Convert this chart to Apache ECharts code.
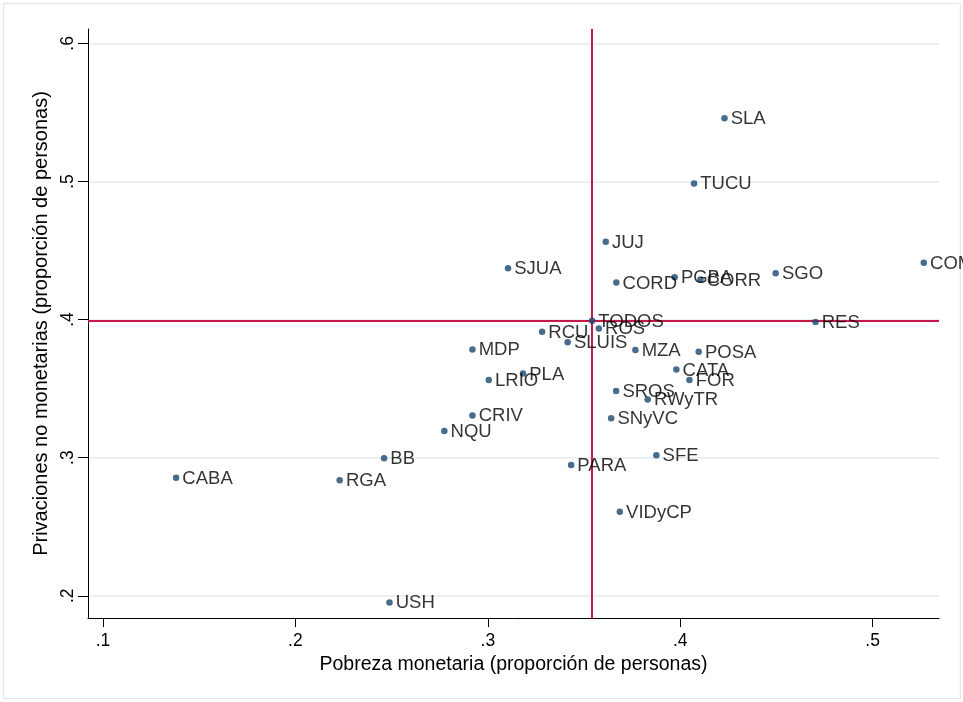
<!DOCTYPE html>
<html>
<head>
<meta charset="utf-8">
<script src="https://cdn.jsdelivr.net/npm/echarts@6/dist/echarts.min.js"></script>
<style>html,body{margin:0;padding:0;background:#fff}#c{width:963px;height:702px}</style>
</head>
<body>
<div id="c"></div>
<script>
const names = ['SLA','TUCU','JUJ','SJUA','CORD','PGBA','CORR','SGO','COM','RES','POSA','CATA','FOR','RWyTR','TODOS','ROS','RCU','SLUIS','MZA','MDP','PLA','LRIO','SROS','SNyVC','CRIV','NQU','BB','SFE','PARA','VIDyCP','CABA','RGA','USH'];
const pobreza = [0.423,0.4072,0.3613,0.3105,0.3668,0.3971,0.4105,0.4496,0.5266,0.4703,0.4096,0.398,0.4048,0.3831,0.3542,0.3577,0.3282,0.3415,0.3767,0.292,0.3183,0.3005,0.3667,0.3641,0.292,0.2774,0.2461,0.3876,0.3433,0.3686,0.138,0.223,0.2489];
const privaciones = [0.5457,0.4986,0.4563,0.4371,0.4269,0.4306,0.429,0.4335,0.4411,0.3982,0.3767,0.3639,0.3562,0.3422,0.3991,0.3936,0.3912,0.3835,0.3779,0.3784,0.361,0.3562,0.3482,0.3285,0.3306,0.3193,0.2995,0.3017,0.2946,0.2608,0.2854,0.2836,0.1952];
const xTicks = [0.1,0.2,0.3,0.4,0.5];
const yTicks = [0.2,0.3,0.4,0.5,0.6];
const refX = 0.3542, refY = 0.3991;

const fmt = v => (Math.round(v*10)/10).toFixed(1).replace(/^0/,'');
const data = names.map((n,i)=>[pobreza[i], privaciones[i], n]);
const FONT = 'Liberation Sans, Arial, sans-serif';

const chart = echarts.init(document.getElementById('c'), null, {renderer:'canvas'});
chart.setOption({
  backgroundColor:'#fff',
  animation:false,
  graphic:[{type:'rect', shape:{x:3.5,y:3.5,width:957,height:695}, style:{fill:'none', stroke:'#e3ebee', lineWidth:1.5}, silent:true}],
  grid:{left:88, right:24, top:29, bottom:84},
  xAxis:{
    type:'value', min:0.0922, max:0.5345,
    name:'Pobreza monetaria (proporción de personas)', nameLocation:'middle', nameGap:33,
    nameTextStyle:{color:'#000', fontSize:19.5, fontFamily:FONT},
    axisLine:{show:true, lineStyle:{color:'#000', width:1}},
    axisTick:{show:true, length:9, customValues:xTicks, lineStyle:{color:'#000'}},
    axisLabel:{customValues:xTicks, formatter:fmt, color:'#000', fontSize:17.5, fontFamily:FONT, margin:14},
    splitLine:{show:false}
  },
  yAxis:{
    type:'value', min:0.1839, max:0.6104,
    name:'Privaciones no monetarias (proporción de personas)', nameLocation:'middle', nameGap:36,
    nameTextStyle:{color:'#000', fontSize:20, fontFamily:FONT},
    axisLine:{show:true, lineStyle:{color:'#000', width:1}},
    axisTick:{show:true, length:10, customValues:yTicks, lineStyle:{color:'#000'}},
    axisLabel:{customValues:yTicks, formatter:fmt, color:'#000', fontSize:17.5, fontFamily:FONT, rotate:90, margin:11},
    splitLine:{show:true, lineStyle:{color:'#e8f0f2', width:2}}
  },
  series:[{
    type:'scatter', data:[], z:1, silent:true,
    markLine:{
      silent:true, symbol:'none', label:{show:false}, precision:6,
      lineStyle:{color:'#c8174a', width:2, type:'solid'},
      data:[{xAxis:refX},{yAxis:refY}]
    }
  },{
    type:'scatter', data:data, symbolSize:6.5, z:5,
    itemStyle:{color:'#1a476f'},
    label:{show:true, position:'right', distance:3, formatter:p=>p.data[2], color:'#000', fontSize:18.5, fontFamily:FONT, offset:[0,1]}
  }]
});
</script>
</body>
</html>
